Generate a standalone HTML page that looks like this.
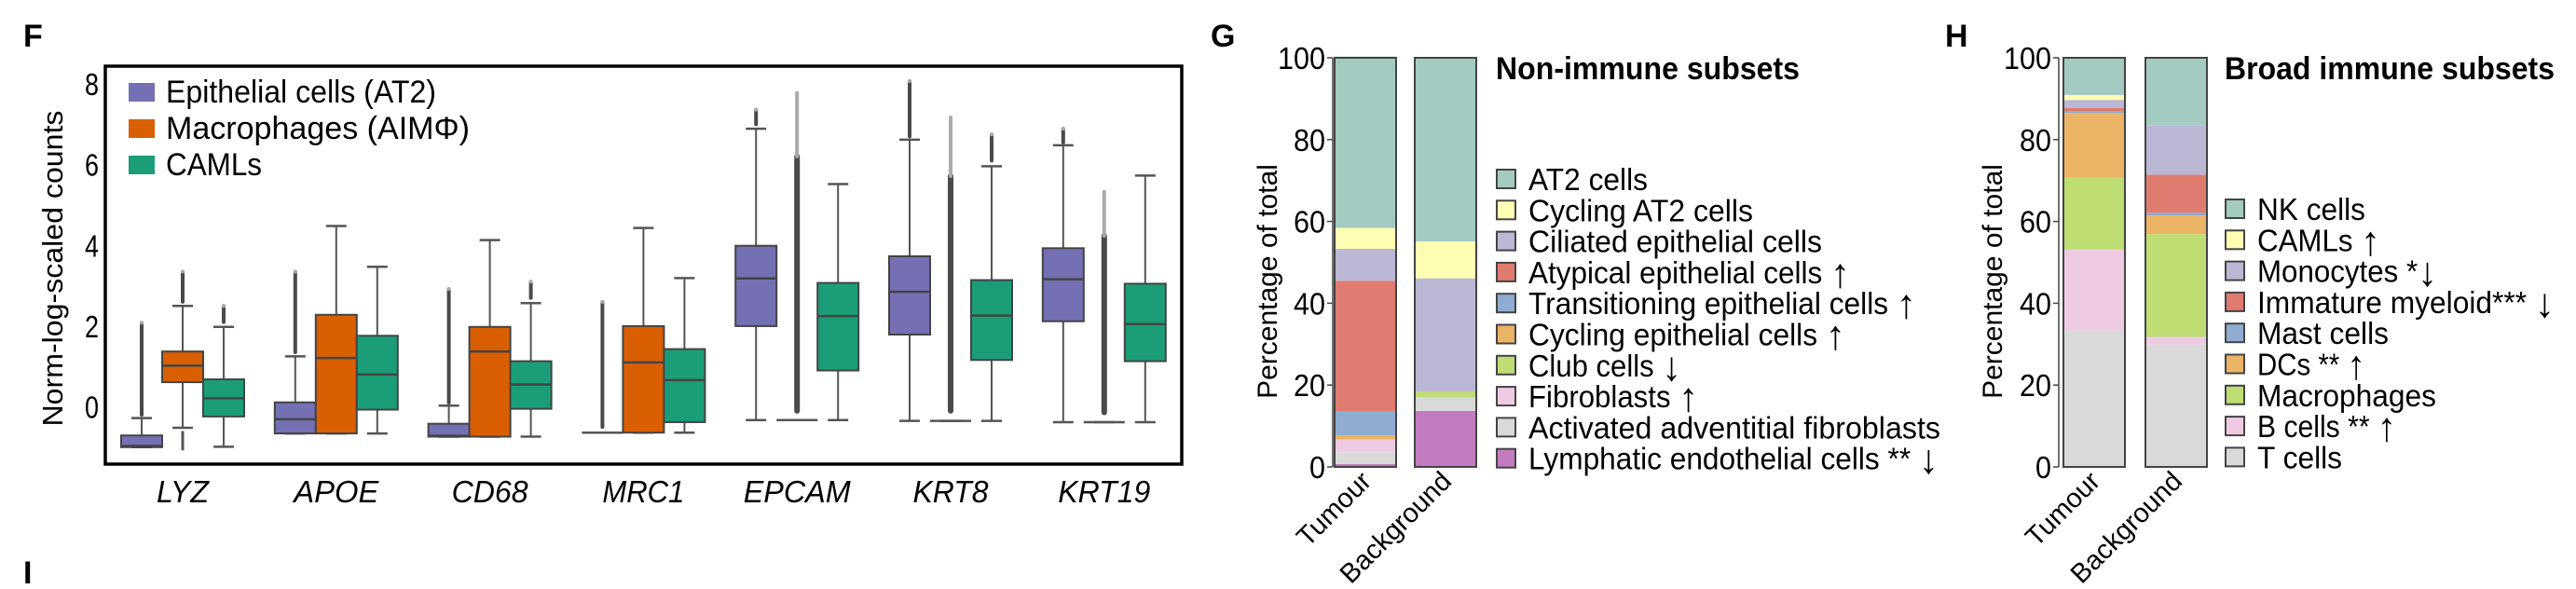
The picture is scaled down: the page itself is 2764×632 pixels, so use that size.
<!DOCTYPE html>
<html><head><meta charset="utf-8"><style>
html,body{margin:0;padding:0;background:#fff;}
svg{display:block;font-family:"Liberation Sans",Arial,sans-serif;}
</style></head><body>
<svg id="fig" width="2764" height="632" viewBox="0 0 2764 632" xmlns="http://www.w3.org/2000/svg">
<g id="panelF"></g>
<g id="panelG"></g>
<g id="panelH"></g>
</svg>
<script>
// ---------- Panel F data ----------
const genes = ["LYZ","APOE","CD68","MRC1","EPCAM","KRT8","KRT19"];
const geneLabelWidths = [56,91,82,88,115,81,99];
const fTicks = [0,2,4,6,8];
const seriesNames = ["Epithelial cells (AT2)","Macrophages (AIM\u03A6)","CAMLs"];
const at2Lo  = [-1.0,-0.66,-0.74,-0.64,-0.33,-0.35,-0.38];
const at2Q1  = [-1.0,-0.66,-0.74,-0.64,2.0,1.79,2.12];
const at2Med = [-0.97,-0.31,-0.72,-0.64,3.18,2.85,3.16];
const at2Q3  = [-0.71,0.11,-0.42,-0.64,3.99,3.73,3.93];
const at2Hi  = [-0.28,1.25,0.03,-0.64,6.89,6.62,6.48];
const at2OutLo = [-0.2,1.35,0.1,-0.5,7.0,6.7,6.55];
const at2OutHi = [2.08,3.35,2.92,2.6,7.36,8.07,6.89];
const aimLo  = [-0.52,-0.66,-0.74,-0.64,-0.33,-0.35,-0.38];
const aimQ1  = [0.61,-0.66,-0.74,-0.64,-0.33,-0.35,-0.38];
const aimMed = [1.02,1.21,1.37,1.1,-0.33,-0.35,-0.38];
const aimQ3  = [1.37,2.28,1.98,2.0,-0.33,-0.35,-0.38];
const aimHi  = [2.5,4.48,4.13,4.43,-0.33,-0.35,-0.38];
const aimOutLo = [2.6,null,null,null,-0.1,-0.1,-0.14];
const aimOutHi = [3.35,null,null,null,7.78,7.17,5.33];
const camlLo  = [-0.99,-0.66,-0.74,-0.64,-0.33,-0.35,-0.38];
const camlQ1  = [-0.24,-0.07,-0.05,-0.38,0.9,1.16,1.13];
const camlMed = [0.21,0.8,0.55,0.66,2.25,2.26,2.05];
const camlQ3  = [0.68,1.76,1.13,1.43,3.07,3.14,3.05];
const camlHi  = [1.98,3.47,2.57,3.19,5.52,5.96,5.73];
const camlOutLo = [2.1,null,2.7,null,null,6.1,null];
const camlOutHi = [2.5,null,3.1,null,null,6.75,null];

// ---------- Panel G data ----------
const gCats = ["Tumour","Background"];
const gTicks = [0,20,40,60,80,100];
const gSubsets = ["AT2 cells","Cycling AT2 cells","Ciliated epithelial cells","Atypical epithelial cells \u2191","Transitioning epithelial cells \u2191","Cycling epithelial cells \u2191","Club cells \u2193","Fibroblasts \u2191","Activated adventitial fibroblasts","Lymphatic endothelial cells ** \u2193"];
const gLabelWidths = [128,241,315,345,416,340,164,182,442,440];
const gTumour     = [41.9,5.1,7.8,32.0,5.8,0.9,0.2,3.0,2.9,0.7];
const gBackground = [45.0,9.0,27.6,0.1,0.0,0.0,1.4,0.0,3.3,13.7];

// ---------- Panel H data ----------
const hCats = ["Tumour","Background"];
const hTicks = [0,20,40,60,80,100];
const hSubsets = ["NK cells","CAMLs \u2191","Monocytes *\u2193","Immature myeloid*** \u2193","Mast cells","DCs ** \u2191","Macrophages","B cells ** \u2191","T cells"];
const hLabelWidths = [116,132,193,319,141,116,192,149,91];
const hTumour     = [9.1,1.2,2.0,0.7,0.5,15.8,17.6,19.7,33.4];
const hBackground = [16.6,0.0,12.0,9.3,0.6,4.6,25.1,1.9,29.9];

const NS="http://www.w3.org/2000/svg";
function mk(parent,tag,attrs,text){
  const e=document.createElementNS(NS,tag);
  for(const k in attrs) e.setAttribute(k,attrs[k]);
  if(text!==undefined) e.textContent=text;
  parent.appendChild(e); return e;
}

// ================= Panel F =================
(function(){
  const g=document.getElementById('panelF');
  const y=v=>436.5-v*43.3;
  const xc=i=>196+i*164.8;
  const bw=44;
  let t=mk(g,'text',{x:25,y:50,'font-size':34,'font-weight':'bold'},'F');
  
  
  t=mk(g,'text',{x:25,y:626,'font-size':34,'font-weight':'bold'},'I');
  
  
  let r=mk(g,'rect',{x:113,y:71,width:1155,height:427,fill:'none',stroke:'#000','stroke-width':3.5});
  
  
  fTicks.forEach(v=>{
    const tl=mk(g,'text',{x:106,y:y(v)+12,'font-size':33,'text-anchor':'end',textLength:15,lengthAdjust:'spacingAndGlyphs'},String(v));
    
    
  });
  t=mk(g,'text',{x:0,y:0,'font-size':31,'text-anchor':'middle',transform:'translate(67,288) rotate(-90)',textLength:339,lengthAdjust:'spacingAndGlyphs'},'Norm-log-scaled counts');
  
  
  genes.forEach((gn,i)=>{
    const tl=mk(g,'text',{x:xc(i),y:539,'font-size':33,'font-style':'italic','text-anchor':'middle',textLength:geneLabelWidths[i],lengthAdjust:'spacingAndGlyphs'},gn);
    
    
  });
  const series=[
    {c:'#7570b3',lo:at2Lo,q1:at2Q1,med:at2Med,q3:at2Q3,hi:at2Hi,ol:at2OutLo,oh:at2OutHi,name:'at2'},
    {c:'#d95f02',lo:aimLo,q1:aimQ1,med:aimMed,q3:aimQ3,hi:aimHi,ol:aimOutLo,oh:aimOutHi,name:'aim'},
    {c:'#1b9e77',lo:camlLo,q1:camlQ1,med:camlMed,q3:camlQ3,hi:camlHi,ol:camlOutLo,oh:camlOutHi,name:'caml'}];
  series.forEach((s,si)=>{
    genes.forEach((gn,i)=>{
      const cx=xc(i)+(si-1)*bw;
      const grp=mk(g,'g',{});
      
      
      if(s.oh[i]!==null){
        const lo=s.ol[i]!==null?s.ol[i]:s.hi[i]+0.1;
        const dense = s.q3[i]===s.q1[i] && si===1;
        const top=dense? lo+(s.oh[i]-lo)*0.8 : s.oh[i];
        mk(grp,'line',{x1:cx,x2:cx,y1:y(lo),y2:y(top),stroke:'#4a4a4a','stroke-width':dense?6:4,'stroke-linecap':'round'});
        mk(grp,'line',{x1:cx,x2:cx,y1:y(top),y2:y(s.oh[i]),stroke:'#aaa','stroke-width':4,'stroke-linecap':'round'});
      }
      if(s===series[1] && i===0){
        mk(grp,'line',{x1:cx,x2:cx,y1:y(-0.6),y2:y(-1.08),stroke:'#555','stroke-width':3});
      }
      mk(grp,'line',{x1:cx,x2:cx,y1:y(s.hi[i]),y2:y(s.lo[i]),stroke:'#555','stroke-width':2});
      mk(grp,'line',{x1:cx-11,x2:cx+11,y1:y(s.hi[i]),y2:y(s.hi[i]),stroke:'#555','stroke-width':2.5});
      const capw = s.q3[i]===s.q1[i]?22:11;
      mk(grp,'line',{x1:cx-capw,x2:cx+capw,y1:y(s.lo[i]),y2:y(s.lo[i]),stroke:'#555','stroke-width':2.5});
      if(s.q3[i]>s.q1[i]){
        mk(grp,'rect',{x:cx-bw/2,y:y(s.q3[i]),width:bw,height:y(s.q1[i])-y(s.q3[i]),fill:s.c,stroke:'#444','stroke-width':2});
        mk(grp,'line',{x1:cx-bw/2,x2:cx+bw/2,y1:y(s.med[i]),y2:y(s.med[i]),stroke:'#444','stroke-width':2.5});
      }
    });
  });
  series.forEach((s,si)=>{
    const ly=89+si*39;
    const sw=mk(g,'rect',{x:138,y:ly,width:28,height:20,fill:s.c});
    
    
    const widths=[290,326,103];
    const lt=mk(g,'text',{x:178,y:ly+21,'font-size':34,textLength:widths[si],lengthAdjust:'spacingAndGlyphs'},seriesNames[si]);
    
    
  });
})();

// ================= Stacked panels =================
const gColors=['#a3cbc2','#ffffb3','#bbb8d6','#e07b70','#8eadd0','#eab366','#bedd73','#eecbe2','#d9d9d9','#c37bbf'];
const hColors=['#a3cbc2','#ffffb3','#bbb8d6','#e07b70','#8eadd0','#eab366','#bedd73','#eecbe2','#d9d9d9'];
function legendText(g,x,y,str,width){
  const lt=mk(g,'text',{x:x,y:y,'font-size':33,textLength:width,lengthAdjust:'spacingAndGlyphs'});
  const m=str.match(/^(.*?)([\u2191\u2193])$/);
  if(m){
    mk(lt,'tspan',{},m[1]);
    mk(lt,'tspan',{'font-size':44,'dy':4},m[2]);
  } else lt.textContent=str;
  return lt;
}
function stacked(gid,opt){
  const g=document.getElementById(gid);
  const y=v=>501-v*4.39;
  let t=mk(g,'text',{x:opt.labelX,y:50,'font-size':34,'font-weight':'bold'},opt.label);
  
  
  let ax=mk(g,'line',{x1:opt.axisX,x2:opt.axisX,y1:y(0),y2:y(100),stroke:'#444','stroke-width':1.5});
  
  
  opt.ticks.forEach(v=>{
    mk(g,'line',{x1:opt.axisX-6,x2:opt.axisX,y1:y(v),y2:y(v),stroke:'#444','stroke-width':1.5});
    const tl=mk(g,'text',{x:opt.axisX-8,y:y(v)+12,'font-size':33,'text-anchor':'end',textLength:String(v).length*17,lengthAdjust:'spacingAndGlyphs'},String(v));
    
    
  });
  t=mk(g,'text',{x:0,y:0,'font-size':30,'text-anchor':'middle',transform:'translate('+opt.titleX+',302) rotate(-90)'},'Percentage of total');
  
  
  const cols=[opt.t,opt.b];
  opt.cats.forEach((c,ci)=>{
    const bx=opt.barX[ci], w=66;
    let cum=0;
    const vals=cols[ci];
    for(let k=vals.length-1;k>=0;k--){
      const v=vals[k];
      if(v>0){
        const seg=mk(g,'rect',{x:bx,y:y(cum+v),width:w,height:y(cum)-y(cum+v),fill:opt.colors[k]});
        
        
      }
      cum+=v;
    }
    const fr=mk(g,'rect',{x:bx,y:y(100),width:w,height:y(0)-y(100),fill:'none',stroke:'#444','stroke-width':2});
    
    
    const cl=mk(g,'text',{x:0,y:0,'font-size':29,'text-anchor':'end',transform:'translate('+(bx+w/2+8)+',518) rotate(-45)'},c);
    
    
  });
  t=mk(g,'text',{x:opt.legX-35,y:85,'font-size':34,'font-weight':'bold',textLength:opt.titleW,lengthAdjust:'spacingAndGlyphs'},opt.title);
  
  
  opt.subsets.forEach((s,k)=>{
    const cy=opt.legY0+k*33.3;
    const sw=mk(g,'rect',{x:opt.legX-34,y:cy-10,width:20,height:20,fill:opt.colors[k],stroke:'#444','stroke-width':2});
    
    
    const lt=legendText(g,opt.legX,cy+12,s,opt.widths[k]);
    
    
  });
}
stacked('panelG',{label:'G',labelX:1299,axisX:1430,titleX:1370,barX:[1432,1518],cats:gCats,ticks:gTicks,t:gTumour,b:gBackground,colors:gColors,subsets:gSubsets,widths:gLabelWidths,legX:1640,legY0:192,title:'Non-immune subsets',titleW:326});
stacked('panelH',{label:'H',labelX:2087,axisX:2209,titleX:2148,barX:[2214,2302],cats:hCats,ticks:hTicks,t:hTumour,b:hBackground,colors:hColors,subsets:hSubsets,widths:hLabelWidths,legX:2422,legY0:224,title:'Broad immune subsets',titleW:354});
</script>
</body></html>
